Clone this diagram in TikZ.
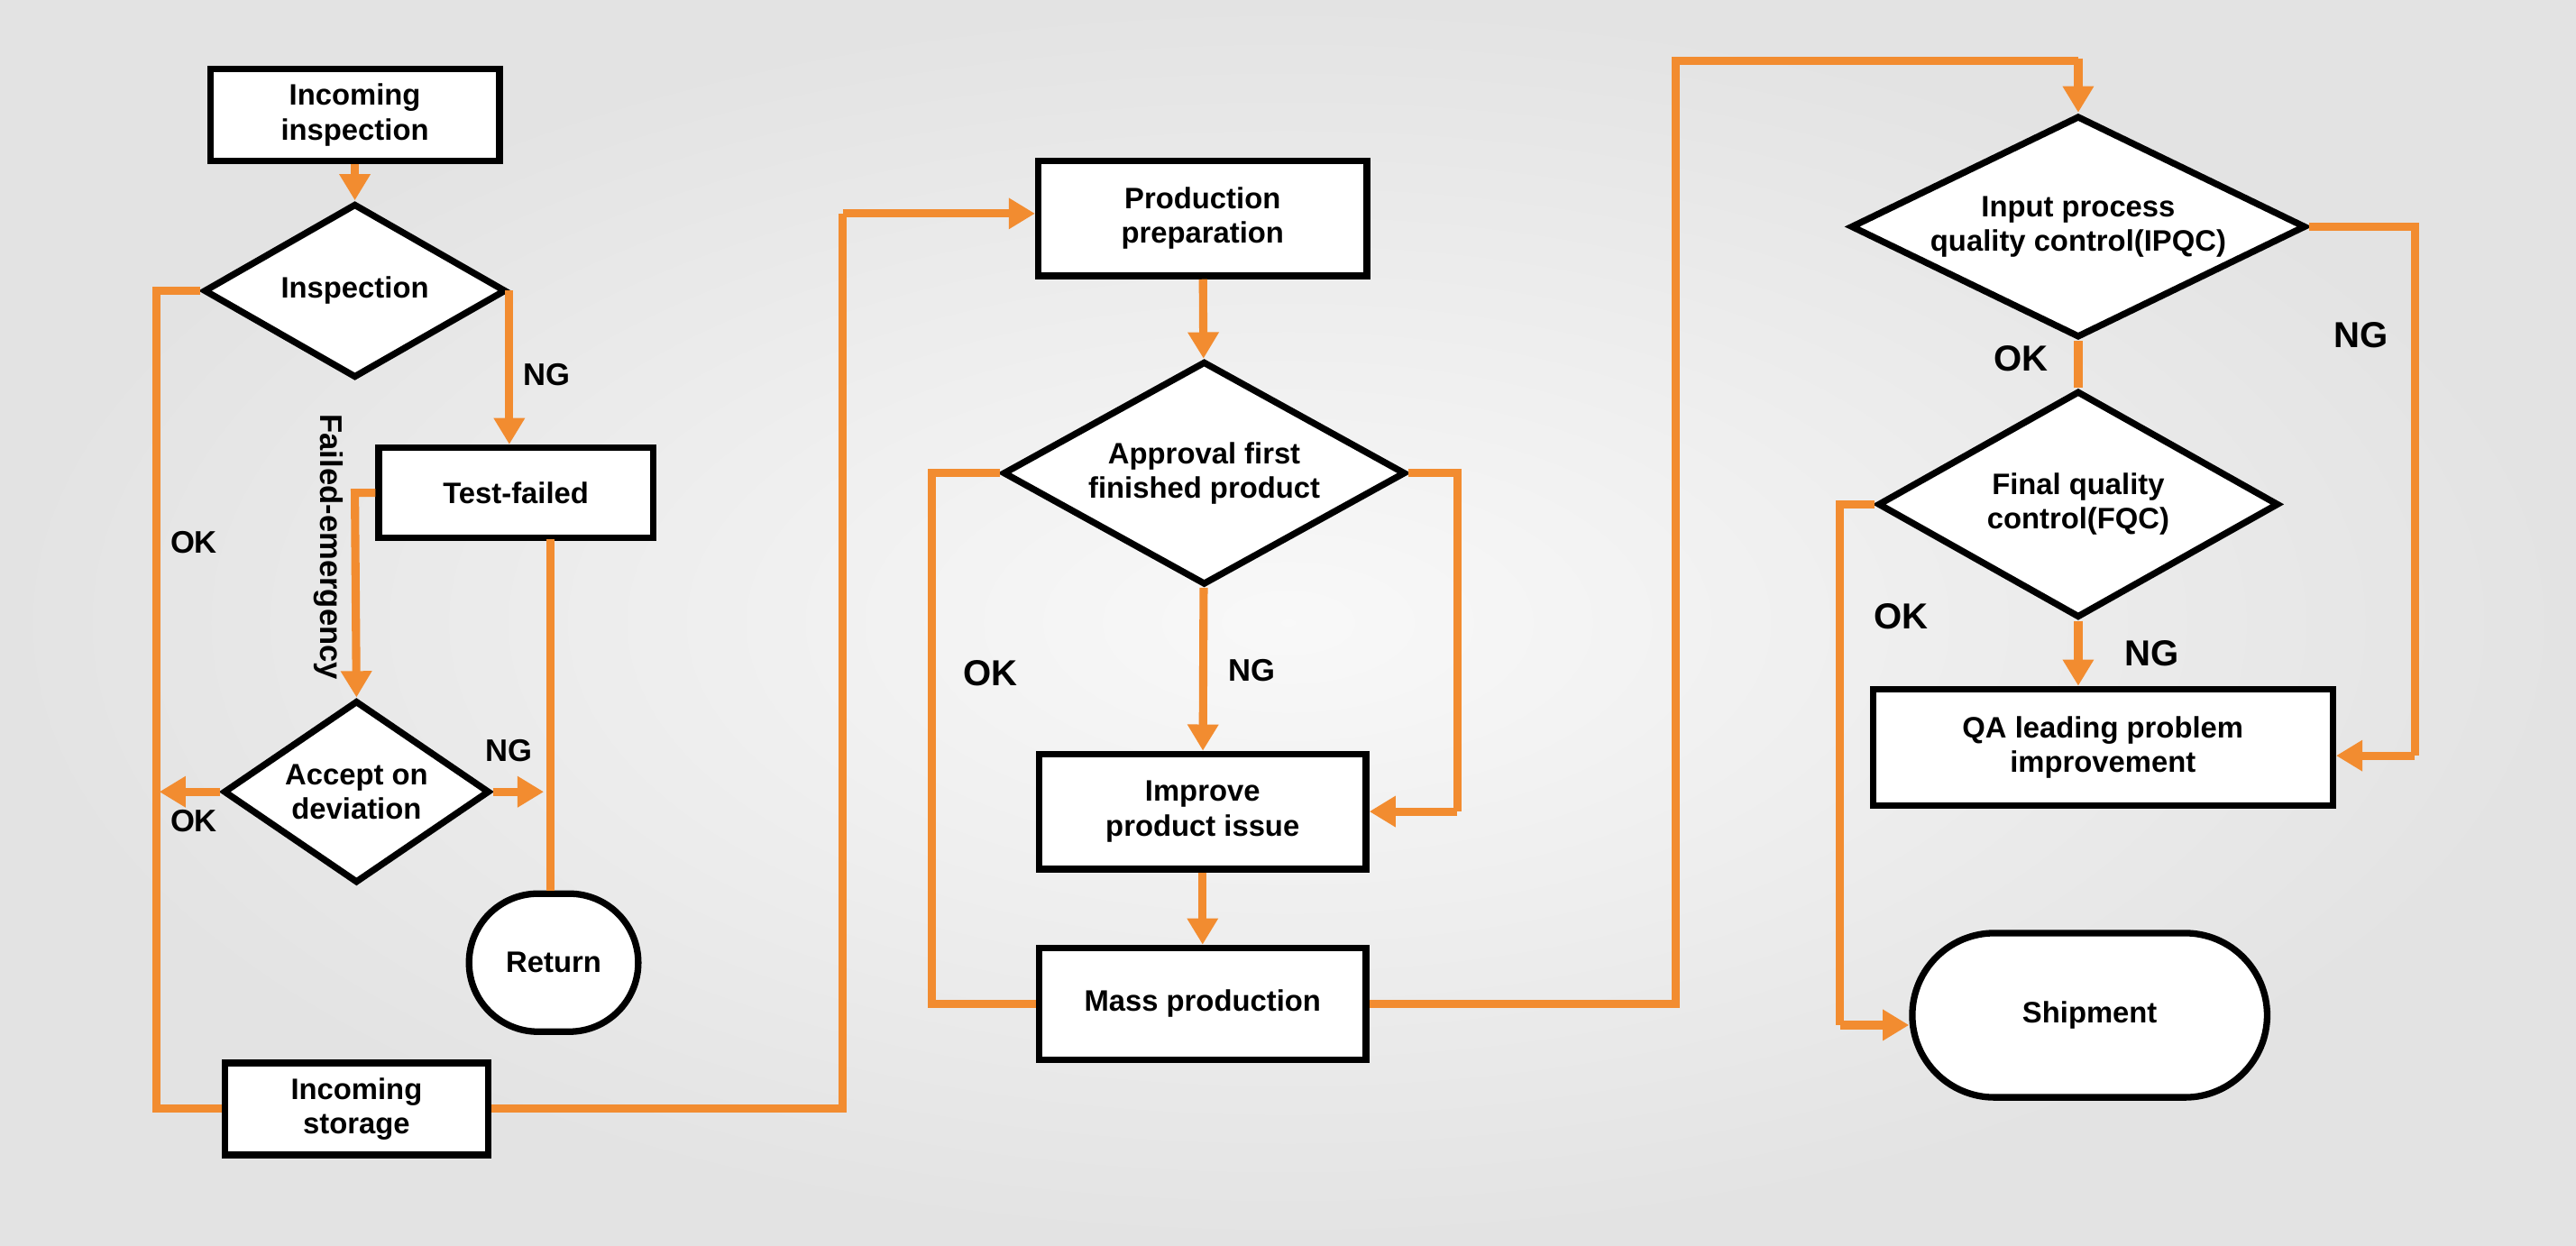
\documentclass[tikz,border=0pt]{standalone}
\usepackage{fontspec}
\setmainfont{Liberation Sans}
\usetikzlibrary{shapes.geometric,arrows.meta}
\definecolor{org}{HTML}{F28C30}
\begin{document}
\begin{tikzpicture}[x=0.5pt,y=-0.5pt,
  font=\fontsize{9}{10.5}\selectfont\bfseries,
  box/.style={draw=black,line width=2pt,fill=white,align=center,inner sep=0},
  dia/.style={draw=black,line width=2pt,fill=white,diamond,inner sep=0,label={[align=center,font=\fontsize{9}{10.5}\selectfont\bfseries]center:#1}},
  ln/.style={draw=org,line width=2.5pt},
  ar/.style={ln,-{Triangle[length=8pt,width=9pt]}},
  lb/.style={font=\fontsize{9.5}{11}\selectfont\bfseries},
  big/.style={font=\fontsize{11}{12}\selectfont\bfseries}]
\useasboundingbox (0,0) rectangle (1568,758);
\shade[inner color=gray!5,outer color=gray!22] (0,0) rectangle (1568,758);
% left column
\node[box,minimum width=88pt,minimum height=28pt] (ii) at (216,70) {Incoming\\inspection};
\node[dia={Inspection},minimum width=92pt,minimum height=53pt] (insp) at (216,177) {};
\node[box,minimum width=83.5pt,minimum height=27.5pt] (tf) at (314,300) {Test-failed};
\node[dia={Accept on\\deviation},minimum width=81pt,minimum height=55.5pt] (acc) at (217,482) {};
\node[box,rounded corners=21pt,minimum width=51.5pt,minimum height=42pt] (ret) at (337,586) {Return};
\node[box,minimum width=80pt,minimum height=28pt] (st) at (217,675) {Incoming\\storage};
% middle
\node[box,minimum width=100pt,minimum height=35pt] (pp) at (732,133) {Production\\preparation};
\node[dia={Approval first\\finished product},minimum width=122.5pt,minimum height=68pt] (ap) at (733,288) {};
\node[box,minimum width=99.5pt,minimum height=35pt] (imp) at (732,494) {Improve\\product issue};
\node[box,minimum width=99.5pt,minimum height=34pt] (mp) at (732,611) {Mass production};
% right
\node[dia={Input process\\quality control(IPQC)},minimum width=138.5pt,minimum height=67.5pt] (ipqc) at (1265,138) {};
\node[dia={Final quality\\control(FQC)},minimum width=122pt,minimum height=69pt] (fqc) at (1265,307) {};
\node[box,minimum width=140pt,minimum height=35.5pt] (qa) at (1280,455) {QA leading problem\\improvement};
\node[box,rounded corners=25pt,minimum width=108pt,minimum height=50pt] (sh) at (1272,618) {Shipment};
% connectors
\draw[ar] (ii) -- (insp);
\draw[ar] (insp.east) -- (insp.east |- tf.north);
\draw[ln] (insp.west) -- (95,177) -- (95,675) -- (st.west);
\draw[ar] (tf.west) -- (216,300) -- (acc.north);
\draw[ln] (335,328) -- (ret.north -| 335,0);
\draw[ar] (acc.east) -- (331,482);
\draw[ar] (acc.west) -- (97,482);
\draw[ln] (st.east) -- (513,675) -- (513,130);
\draw[ar] (513,130) -- (pp.west |- 0,130);
\draw[ar] (pp) -- (ap);
\draw[ar] (ap) -- (imp);
\draw[ln] (ap.west) -- (567,288) -- (567,611) -- (mp.west);
\draw[ln] (ap.east) -- (887,288) -- (887,494);
\draw[ar] (887,494) -- (imp.east);
\draw[ar] (imp) -- (mp);
\draw[ln] (mp.east) -- (1020,611) -- (1020,37) -- (1265,37);
\draw[ar] (1265,35.5) -- (ipqc.north);
\draw[ln] (ipqc.south) -- (fqc.north);
\draw[ln] (ipqc.east) -- (1470,138) -- (1470,460);
\draw[ar] (1470,460) -- (qa.east |- 0,460);
\draw[ar] (fqc.south) -- (fqc.south |- qa.north);
\draw[ln] (fqc.west) -- (1120,307) -- (1120,624);
\draw[ar] (1120,624) -- (sh.west |- 0,624);
% labels
\node[lb] (l1) at (333,228) {NG};
\node[lb] (l2) at (118,330) {OK};
\node[lb,rotate=-90] (l3) at (200,333) {Failed-emergency};
\node[lb] (l4) at (310,457) {NG};
\node[lb] (l5) at (118,500) {OK};
\node[lb] (l6) at (762,408) {NG};
\node[big] (l7) at (603,410) {OK};
\node[big] (l8) at (1230,218) {OK};
\node[big] (l9) at (1437,204) {NG};
\node[big] (l10) at (1310,398) {NG};
\node[big] (l11) at (1157,375) {OK};
\end{tikzpicture}
\end{document}
